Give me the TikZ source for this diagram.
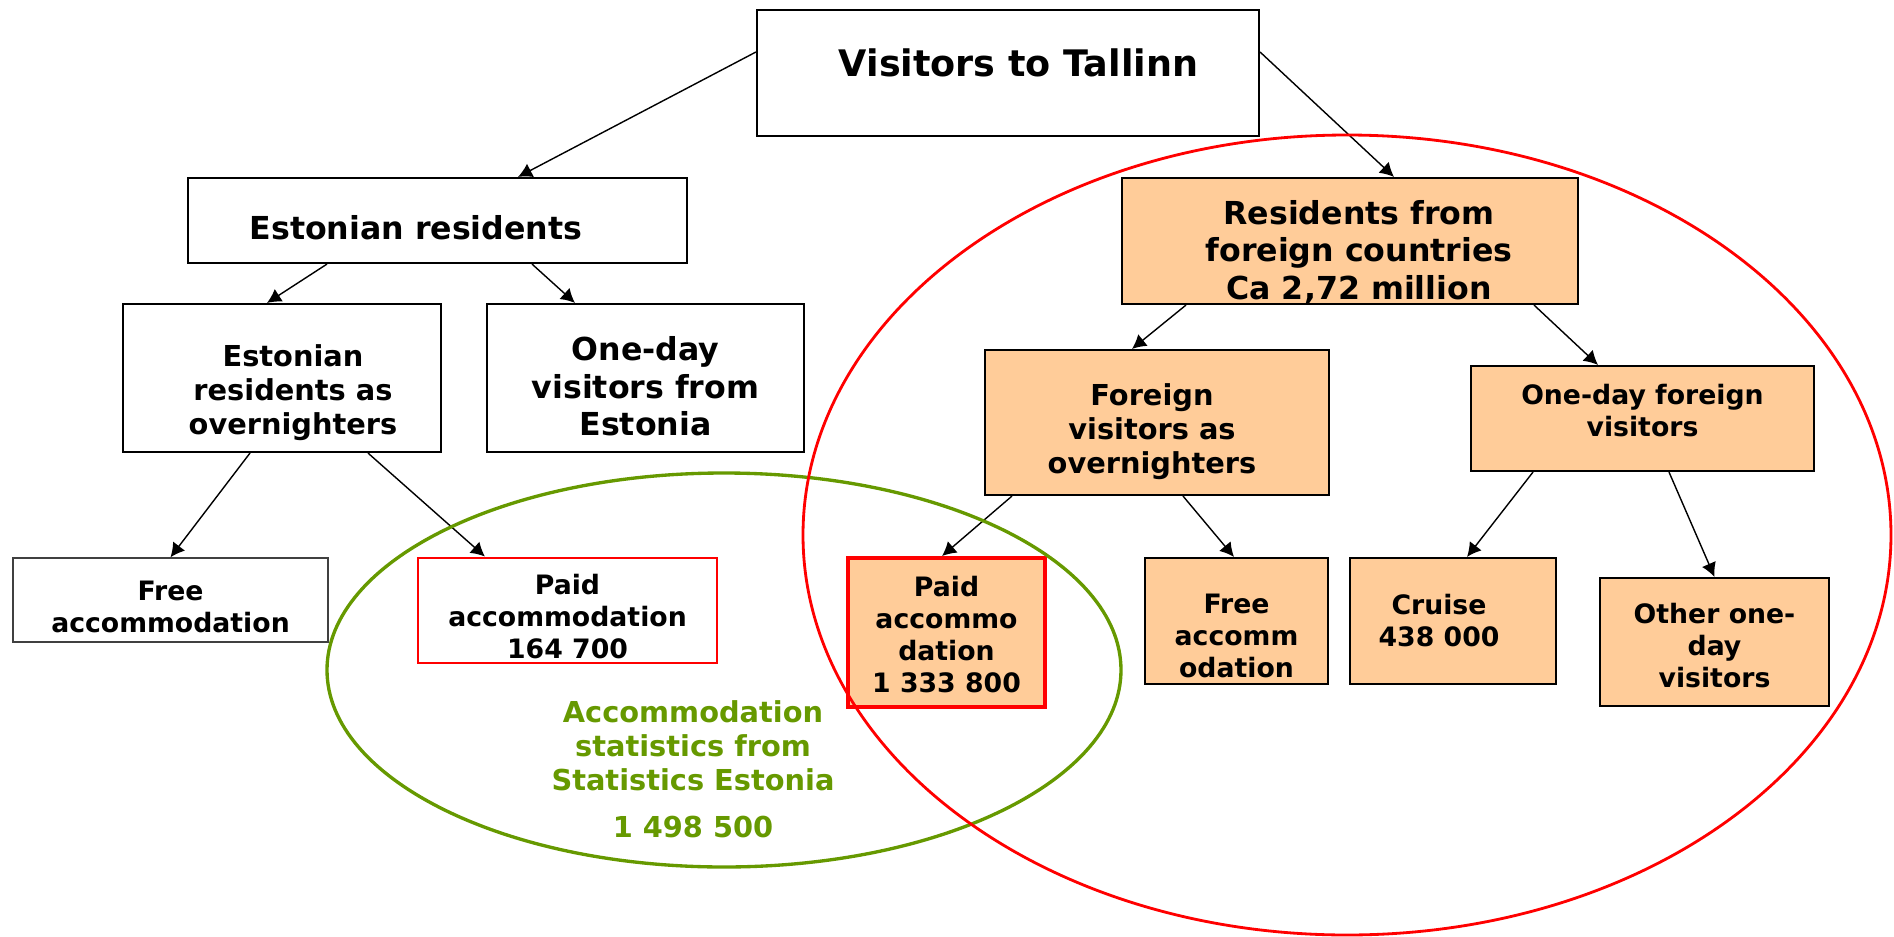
\documentclass[tikz,border=0pt]{standalone}
\usepackage{fontspec}
\setmainfont{DejaVu Sans}
\usepackage{xcolor}
\usepackage{tikz}
\usetikzlibrary{arrows.meta}
\definecolor{peach}{HTML}{FFCC99}
\definecolor{statgreen}{HTML}{669900}
% move the text inside a box: down, up, sideways
\newcommand\txdown[1]{\rule{0pt}{\dimexpr0.76em+#1*2\relax}}
\newcommand\txup[1]{\rule[-\dimexpr#1*2\relax]{0pt}{\dimexpr#1*2\relax}}
\newcommand\txshift[1]{\hspace*{\dimexpr#1*2\relax}}
\tikzset{
  box/.style={draw,line width=0.6pt,fill=white,align=center,inner sep=0pt},
  fbox/.style={box,fill=peach},
  paid/.style={draw=red,line width=0.8pt},
  txtbig/.style={font=\fontsize{10.4}{12.5}\selectfont\bfseries},
  txtmid/.style={font=\fontsize{9}{10.7}\selectfont\bfseries},
  txtsml/.style={font=\fontsize{8.2}{9.7}\selectfont\bfseries},
  txtxs/.style={font=\fontsize{7.6}{9.1}\selectfont\bfseries},
  arr/.style={-{Latex[length=1.4mm,width=1.5mm]},line width=0.4pt},
}

\begin{document}
\begin{tikzpicture}[x=0.1mm,y=-0.1mm]
\useasboundingbox (0,0) rectangle (1894,937);
% top and Estonian side
\node[box,txtbig,minimum width=50.2mm,minimum height=12.6mm] (visitors) at (1008,73) {\txshift{1.05mm}Visitors to Tallinn\txup{1mm}};
\node[box,txtmid,minimum width=49.9mm,minimum height=8.5mm] (estres) at (437.5,220.5) {\txdown{0.7mm}\txshift{-2.15mm}Estonian residents};
\node[box,txtsml,minimum width=31.8mm,minimum height=14.8mm] (estover) at (282,378) {\txdown{1.5mm}\txshift{1.1mm}Estonian\\\txshift{1.1mm}residents as\\\txshift{1.1mm}overnighters};
\node[box,txtmid,minimum width=31.7mm,minimum height=14.8mm] (estday) at (645.5,378) {\txdown{0.85mm}One-day\\visitors from\\Estonia};
\node[box,txtxs,draw=black!75,line width=0.4pt,minimum width=31.5mm,minimum height=8.4mm] (estfree) at (170.5,600) {\txdown{0.65mm}Free\\accommodation};
\node[box,txtxs,paid,minimum width=29.9mm,minimum height=10.5mm] (estpaid) at (567.5,610.5) {\txdown{0.6mm}Paid\\accommodation\\164 700};
% foreign side
\node[fbox,txtmid,minimum width=45.6mm,minimum height=12.6mm] (forres) at (1350,241) {\txdown{1.1mm}\txshift{0.9mm}Residents from\\\txshift{0.9mm}foreign countries\\\txshift{0.9mm}Ca 2,72 million};
\node[fbox,txtsml,minimum width=34.4mm,minimum height=14.5mm] (forover) at (1157,422.5) {\txdown{0.95mm}\txshift{-0.5mm}Foreign\\\txshift{-0.5mm}visitors as\\\txshift{-0.5mm}overnighters};
\node[fbox,txtxs,minimum width=34.3mm,minimum height=10.5mm] (forday) at (1642.5,418.5) {One-day foreign\\visitors\txup{0.8mm}};
\node[fbox,txtxs,paid,line width=1.1pt,minimum width=19.7mm,minimum height=14.9mm] (forpaid) at (946.5,632.5) {\txdown{0.25mm}Paid\\accommo\\dation\\1 333 800};
\node[fbox,txtxs,minimum width=18.3mm,minimum height=12.6mm] (forfree) at (1236.5,621) {\txdown{1.45mm}Free\\accomm\\odation};
\node[fbox,txtxs,minimum width=20.6mm,minimum height=12.6mm] (cruise) at (1453,621) {\txshift{-1.4mm}Cruise\\\txshift{-1.4mm}438 000};
\node[fbox,txtxs,minimum width=22.9mm,minimum height=12.8mm] (otherday) at (1714.5,642) {\txdown{0.4mm}Other one-\\day\\visitors};
\node[txtsml,text=statgreen,align=center,inner sep=0pt] (statlabel) at (693,769) {Accommodation\\statistics from\\Statistics Estonia\\[1.3mm]1 498 500};
% arrows
\draw[arr] ([yshift=2.1mm]visitors.west) -- ([xshift=8.05mm]estres.north);
\draw[arr] ([yshift=2.1mm]visitors.east) -- ([xshift=4.4mm]forres.north);
\draw[arr] ([xshift=-11.05mm]estres.south) -- ([xshift=-1.5mm]estover.north);
\draw[arr] ([xshift=9.45mm]estres.south) -- ([xshift=-7.05mm]estday.north);
\draw[arr] ([xshift=-3.2mm]estover.south) -- (estfree.north);
\draw[arr] ([xshift=8.6mm]estover.south) -- ([xshift=-8.25mm]estpaid.north);
\draw[arr] ([xshift=-16.4mm]forres.south) -- ([xshift=-2.5mm]forover.north);
\draw[arr] ([xshift=18.4mm]forres.south) -- ([xshift=-4.45mm]forday.north);
\draw[arr] ([xshift=-14.5mm]forover.south) -- ([xshift=-0.45mm]forpaid.north);
\draw[arr] ([xshift=2.6mm]forover.south) -- ([xshift=-0.25mm]forfree.north);
\draw[arr] ([xshift=-10.95mm]forday.south) -- ([xshift=1.4mm]cruise.north);
\draw[arr] ([xshift=2.65mm]forday.south) -- (otherday.north);
% the two groups
\draw[statgreen,line width=0.95pt] (724,670) ellipse [x radius=39.7mm,y radius=19.7mm];
\draw[red,line width=0.8pt] (1347,535) ellipse [x radius=54.4mm,y radius=40mm];
\end{tikzpicture}
\end{document}
